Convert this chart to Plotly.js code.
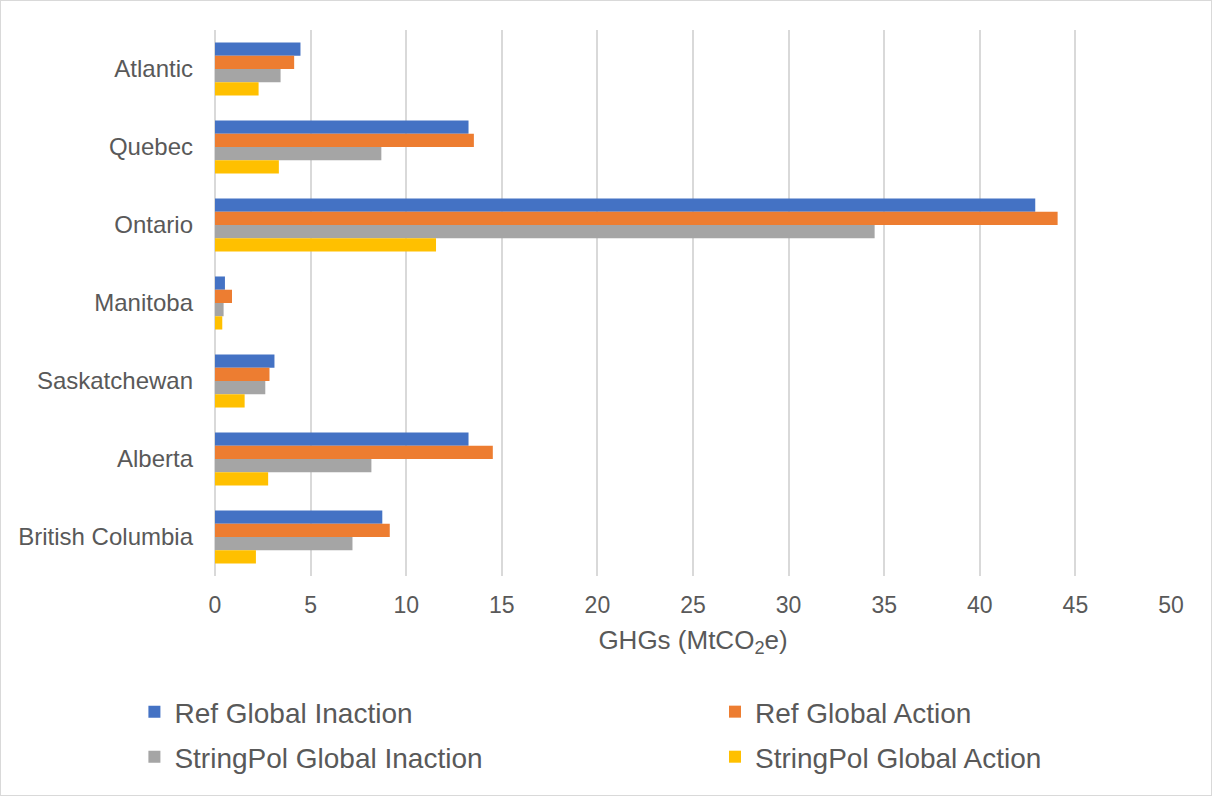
<!DOCTYPE html>
<html>
<head>
<meta charset="utf-8">
<script src="https://cdn.plot.ly/plotly-3.0.1.min.js"></script>
<style>
html,body{margin:0;padding:0;background:#fff;}
#chart{width:1212px;height:796px;box-sizing:border-box;border:1px solid #d9d9d9;}
</style>
</head>
<body>
<div id="chart"></div>
<script>
const regions = ["Atlantic", "Quebec", "Ontario", "Manitoba", "Saskatchewan", "Alberta", "British Columbia"];
const refInaction = [4.47, 13.26, 42.9, 0.52, 3.11, 13.26, 8.75];
const refAction = [4.14, 13.54, 44.07, 0.89, 2.85, 14.53, 9.14];
const strInaction = [3.43, 8.70, 34.5, 0.45, 2.63, 8.18, 7.19];
const strAction = [2.28, 3.34, 11.56, 0.38, 1.55, 2.78, 2.14];
const seriesNames = ["Ref Global Inaction", "Ref Global Action", "StringPol Global Inaction", "StringPol Global Action"];
const seriesColors = ["#4472C4", "#ED7D31", "#A5A5A5", "#FFC000"];
const seriesValues = [refInaction, refAction, strInaction, strAction];
const legendIds = ["legend", "legend2", "legend3", "legend4"];

const traces = seriesValues.map((vals, i) => ({
  type: 'bar',
  orientation: 'h',
  y: regions,
  x: vals,
  name: seriesNames[i],
  legend: legendIds[i],
  marker: {color: seriesColors[i]},
  hoverinfo: 'x+y+name'
}));

const fontFam = 'Liberation Sans, Arial, sans-serif';
const grey = '#595959';
function leg(x, y) {
  return {x: x, y: y, xanchor: 'left', yanchor: 'middle', bgcolor: 'rgba(0,0,0,0)',
          font: {family: fontFam, size: 28, color: grey}};
}

const layout = {
  width: 1212, height: 796,
  margin: {l: 214, r: 42, t: 29, b: 221},
  paper_bgcolor: 'rgba(0,0,0,0)',
  plot_bgcolor: '#fff',
  barmode: 'group',
  bargap: 0.32,
  bargroupgap: 0,
  font: {family: fontFam, color: grey},
  xaxis: {
    range: [0, 50], dtick: 5, showgrid: true, gridcolor: '#d9d9d9', gridwidth: 2,
    zeroline: true, zerolinecolor: '#d9d9d9', zerolinewidth: 2, showline: false,
    tickfont: {size: 23, color: grey}, ticklabelstandoff: 13,
    title: {text: 'GHGs (MtCO<sub>2</sub>e)', font: {size: 26, color: grey}, standoff: 13}
  },
  yaxis: {
    autorange: 'reversed', showgrid: false, zeroline: false, showline: false,
    tickfont: {size: 24, color: grey}, ticklabelstandoff: 21
  },
  legend: leg(-0.0843, -0.249),
  legend2: leg(0.523, -0.249),
  legend3: leg(-0.0843, -0.3315),
  legend4: leg(0.523, -0.3315),
  showlegend: true
};

Plotly.newPlot('chart', traces, layout, {displayModeBar: false});
</script>
</body>
</html>
